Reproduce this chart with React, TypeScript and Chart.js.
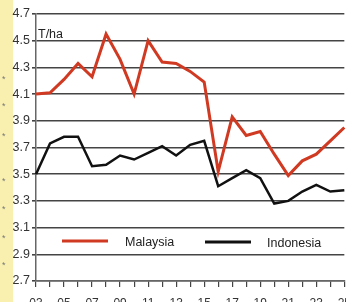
import React, { useEffect, useRef } from 'react';
import { Chart, registerables } from 'chart.js';

Chart.register(...registerables);

const years = ['03','04','05','06','07','08','09','10','11','12','13','14','15','16','17','18','19','20','21','22','23','24','25'];
const malaysia = [4.10, 4.11, 4.21, 4.33, 4.23, 4.55, 4.36, 4.10, 4.50, 4.34, 4.33, 4.27, 4.19, 3.52, 3.93, 3.79, 3.82, 3.65, 3.49, 3.60, 3.65, 3.75, 3.85];
const indonesia = [3.50, 3.73, 3.78, 3.78, 3.56, 3.57, 3.64, 3.61, 3.66, 3.71, 3.64, 3.72, 3.75, 3.41, 3.47, 3.53, 3.47, 3.28, 3.30, 3.37, 3.42, 3.37, 3.38];
const yTicks = [2.7, 2.9, 3.1, 3.3, 3.5, 3.7, 3.9, 4.1, 4.3, 4.5, 4.7];
const unitLabel = 'T/ha';
const seriesNames = ['Malaysia', 'Indonesia'];
const seriesColors = ['#d13a22', '#111111'];

const FONT = '"Liberation Sans", Arial, sans-serif';

const overlayPlugin = {
  id: 'overlay',
  beforeDraw(chart: any) {
    const ctx = chart.ctx;
    ctx.save();
    ctx.fillStyle = '#f9f0b0';
    ctx.fillRect(0, 0, 13, chart.height);
    ctx.restore();
  },
  afterDraw(chart: any) {
    const ctx = chart.ctx;
    const area = chart.chartArea;
    ctx.save();
    ctx.font = `12.5px ${FONT}`;
    ctx.fillStyle = '#222';
    ctx.textBaseline = 'alphabetic';
    ctx.textAlign = 'left';
    ctx.fillText(unitLabel, area.left + 2, area.top + 24);
    const items = [
      { x: 62, tx: 125, y: 241 },
      { x: 205, tx: 267, y: 242 },
    ];
    items.forEach((it, i) => {
      ctx.strokeStyle = seriesColors[i];
      ctx.lineWidth = 3;
      ctx.beginPath();
      ctx.moveTo(it.x, it.y);
      ctx.lineTo(it.x + 46, it.y);
      ctx.stroke();
      ctx.fillStyle = '#222';
      ctx.textBaseline = 'middle';
      ctx.fillText(seriesNames[i], it.tx, it.y + 2);
    });
    ctx.restore();
  },
};

export default function App() {
  const ref = useRef<HTMLCanvasElement | null>(null);
  useEffect(() => {
    if (!ref.current) return;
    Chart.defaults.font.family = FONT;
    const chart = new Chart(ref.current, {
      type: 'line',
      data: {
        labels: years,
        datasets: [
          { label: seriesNames[0], data: malaysia, borderColor: seriesColors[0], borderWidth: 3, pointRadius: 0, tension: 0 },
          { label: seriesNames[1], data: indonesia, borderColor: seriesColors[1], borderWidth: 2.5, pointRadius: 0, tension: 0 },
        ],
      },
      options: {
        responsive: false,
        animation: false,
        layout: { padding: { left: 0, top: 14, right: 9, bottom: 0 } },
        plugins: { legend: { display: false }, tooltip: { enabled: false }, title: { display: false } },
        scales: {
          x: {
            type: 'category',
            offset: false,
            grid: { drawOnChartArea: false, drawTicks: true, tickLength: 6, color: '#444', lineWidth: 1.2 },
            border: { color: '#666', width: 1.5 },
            ticks: {
              autoSkip: false,
              maxRotation: 0,
              padding: 9,
              color: '#333',
              font: { size: 12 },
              callback: (_v: any, idx: number) => (idx % 2 === 0 ? years[idx] : ''),
            },
            afterFit: (s: any) => { s.height = 21; },
          },
          y: {
            min: 2.7,
            max: 4.7,
            afterBuildTicks: (s: any) => { s.ticks = yTicks.map((v) => ({ value: v })); },
            grid: { color: '#444', lineWidth: 1.6, drawTicks: true, tickLength: 4 },
            border: { color: '#666', width: 1.5 },
            ticks: {
              padding: 2,
              color: '#333',
              font: { size: 12.5 },
              callback: (v: any) => Number(v).toFixed(1),
            },
            afterFit: (s: any) => { s.width = 36; },
          },
        },
      },
      plugins: [overlayPlugin],
    });
    return () => chart.destroy();
  }, []);

  const stars = [80, 107, 137, 182, 210, 239, 266];
  return (
    <div style={{ position: 'fixed', left: 0, top: 0, width: 346, height: 302, overflow: 'hidden', background: '#fff' }}>
      <canvas ref={ref} width={360} height={302} style={{ position: 'absolute', left: 0, top: 0, width: 360, height: 302 }} />
      {stars.map((y, i) => (
        <span key={i} style={{ position: 'absolute', left: 2, top: y - 6, fontSize: 9, color: '#777', fontFamily: FONT }}>*</span>
      ))}
    </div>
  );
}
